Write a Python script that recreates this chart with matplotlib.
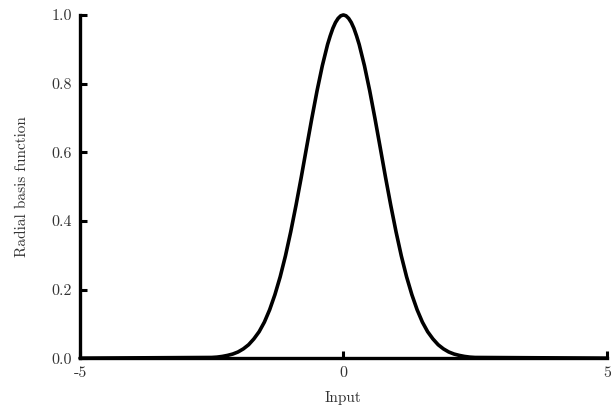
import matplotlib
matplotlib.use("Agg")
import matplotlib.pyplot as plt

# values
x_vals = [-5.0, -2.5, -2.4, -2.3, -2.2, -2.1, -2.0, -1.9, -1.8, -1.7, -1.6,
          -1.5, -1.4, -1.3, -1.2, -1.1, -1.0, -0.9, -0.8, -0.7, -0.6,
          -0.5, -0.4, -0.3, -0.25, -0.2, -0.15, -0.1, -0.05, 0.0,
          0.05, 0.1, 0.15, 0.2, 0.25, 0.3, 0.4,
          0.5, 0.6, 0.7, 0.8, 0.9, 1.0, 1.1, 1.2, 1.3, 1.4,
          1.5, 1.6, 1.7, 1.8, 1.9, 2.0, 2.1, 2.2, 2.3, 2.4, 2.5, 5.0]
y_vals = [0.0, 0.002, 0.003, 0.005, 0.008, 0.012, 0.018, 0.027, 0.039, 0.056, 0.077,
          0.105, 0.141, 0.185, 0.237, 0.298, 0.368, 0.445, 0.527, 0.613, 0.698,
          0.779, 0.852, 0.914, 0.939, 0.961, 0.978, 0.990, 0.9975, 1.000,
          0.9975, 0.990, 0.978, 0.961, 0.939, 0.914, 0.852,
          0.779, 0.698, 0.613, 0.527, 0.445, 0.368, 0.298, 0.237, 0.185, 0.141,
          0.105, 0.077, 0.056, 0.039, 0.027, 0.018, 0.012, 0.008, 0.005, 0.003, 0.002, 0.0]

x_ticks = [-5, 0, 5]
x_labels = ["-5", "0", "5"]
y_ticks = [0.0, 0.2, 0.4, 0.6, 0.8, 1.0]
y_labels = ["0.0", "0.2", "0.4", "0.6", "0.8", "1.0"]

plt.rcParams["font.family"] = ["cmr10", "DejaVu Serif"]
plt.rcParams["axes.unicode_minus"] = False

fig = plt.figure(figsize=(6.11, 4.15), dpi=100)
ax = fig.add_axes([0.131, 0.137, 0.862, 0.827])

ax.plot(x_vals, y_vals, color="black", linewidth=2.6, clip_on=False,
        solid_capstyle="round", solid_joinstyle="round")

ax.set_xlim(-5, 5)
ax.set_ylim(0, 1)
ax.spines["top"].set_visible(False)
ax.spines["right"].set_visible(False)
for side in ("left", "bottom"):
    ax.spines[side].set_linewidth(2.4)

ax.set_xticks(x_ticks)
ax.set_xticklabels(x_labels)
ax.set_yticks(y_ticks)
ax.set_yticklabels(y_labels)
ax.tick_params(direction="in", length=5, width=2.2, labelsize=11.5,
               colors="black", labelcolor="#333333", pad=6)

ax.set_xlabel("Input", fontsize=11, color="#333333", labelpad=8)
ax.set_ylabel("Radial basis function", fontsize=11, color="#333333", labelpad=16)

fig.savefig("out.png", dpi=100)
